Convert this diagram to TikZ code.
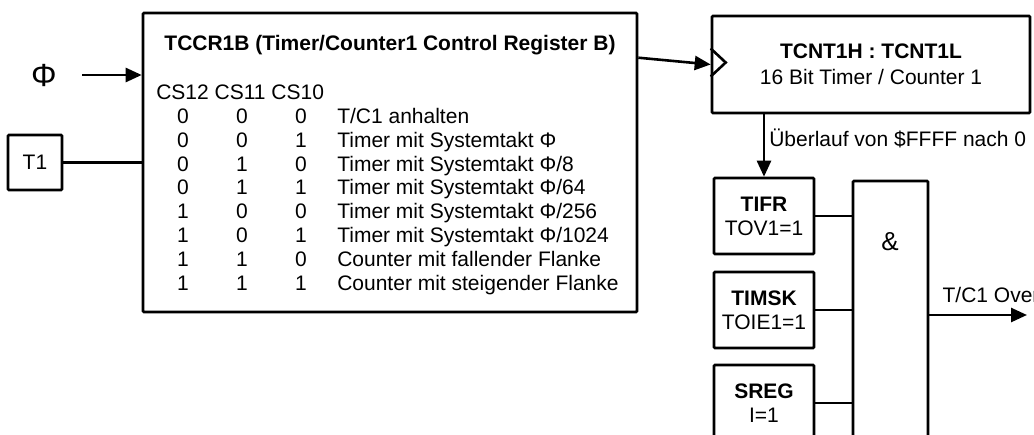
\documentclass[tikz,border=0pt]{standalone}
\usepackage{fontspec}
\setmainfont{Liberation Sans}
\usetikzlibrary{positioning,arrows.meta}

\begin{document}
\begin{tikzpicture}[x=0.5pt,y=-0.5pt,line width=1.3pt,
		every node/.style={font=\fontsize{10.5}{11.9}\selectfont},
		box/.style={draw, rounded corners=0.5pt, inner sep=0pt},
		reg/.style={box, minimum width=50pt, minimum height=38pt, align=center},
		lbl/.style={inner sep=0pt},
		arr/.style={-{Triangle[length=8pt,width=7pt]}}]
	\useasboundingbox (0,0) rectangle (1034,434);
	\clip (0,0) rectangle (1034,434);

	\node (phi) at (44,75) {\fontsize{16}{16}\selectfont Φ};
	\node[box, minimum width=27pt, minimum height=27.5pt] (T1) at (35,162.5) {T1};
	\node[box, minimum width=247pt, minimum height=149.5pt] (TCCR) at (390,162.5) {};
	\node[lbl, anchor=base] (title) at (390,50.5) {\textbf{TCCR1B (Timer/Counter1 Control Register B)}};
	\node[lbl, anchor=base west] (cshead) at (155,99.5) {CS12 CS11 CS10};

	\foreach \a/\b/\c/\txt [count=\i from 0] in {0/0/0/{T/C1 anhalten},
			0/0/1/{Timer mit Systemtakt Φ}, 0/1/0/{Timer mit Systemtakt Φ/8},
			0/1/1/{Timer mit Systemtakt Φ/64}, 1/0/0/{Timer mit Systemtakt Φ/256},
			1/0/1/{Timer mit Systemtakt Φ/1024}, 1/1/0/{Counter mit fallender Flanke},
			1/1/1/{Counter mit steigender Flanke}}{
		\node[lbl, anchor=base] (cs2-\i) at (183,{123.5+23.8*\i}) {\a};
		\node[lbl, anchor=base] (cs1-\i) at (242,{123.5+23.8*\i}) {\b};
		\node[lbl, anchor=base] (cs0-\i) at (301,{123.5+23.8*\i}) {\c};
		\node[lbl, anchor=base west] (mode-\i) at (336,{123.5+23.8*\i}) {\txt};
	}

	\node[box, minimum width=159pt, minimum height=48.5pt, align=center] (TCNT) at (871,64.5)
		{\textbf{TCNT1H : TCNT1L}\\[1pt]16 Bit Timer / Counter 1};
	\draw ([yshift=8pt]TCNT.west) -- ([xshift=7.5pt,yshift=1pt]TCNT.west) -- ([yshift=-6pt]TCNT.west);

	\node[reg] (TIFR) at (764,216) {\textbf{TIFR}\\TOV1=1};
	\node[reg] (TIMSK) at (764,310) {\textbf{TIMSK}\\TOIE1=1};
	\node[reg] (SREG) at (764,403) {\textbf{SREG}\\I=1};
	\node[box, minimum width=37.5pt, minimum height=134pt] (AND) at (890.5,315) {};
	\node (amp) at (890,242) {\fontsize{13}{13}\selectfont\&};
	\coordinate (irq) at (1027,315);

	\draw[arr, shorten <=19pt] (phi.center) -- (phi.center -| TCCR.west);
	\draw (T1) -- (TCCR);
	\draw[arr] ([yshift=-23pt]TCCR.north east) -- (TCNT.west);
	\draw[arr] (TIFR.north |- TCNT.south) -- node[lbl, pos=.38, anchor=west, xshift=2pt] (ovf)
		{Überlauf von \$FFFF nach 0} (TIFR.north);
	\draw (TIFR) -- (TIFR -| AND.west);
	\draw (TIMSK) -- (TIMSK -| AND.west);
	\draw (SREG) -- (SREG -| AND.west);
	\draw[arr] (AND.east) -- node[lbl, pos=0, anchor=base west, xshift=6pt, yshift=6.5pt] (ovl)
		{T/C1 Over} (irq);
\end{tikzpicture}
\end{document}
